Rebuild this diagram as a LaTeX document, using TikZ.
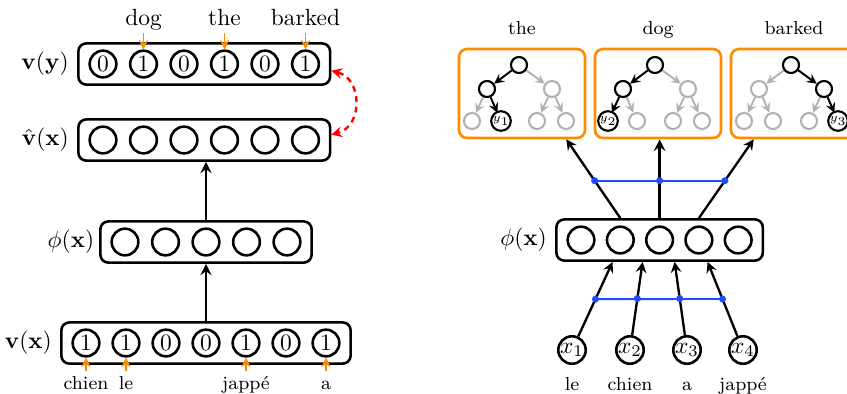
\documentclass[tikz,border=0pt]{standalone}
\usetikzlibrary{positioning,fit,calc}
\definecolor{hsorange}{RGB}{255,140,0}
\definecolor{hsblue}{RGB}{30,75,255}

\begin{document}
\begin{tikzpicture}[x=0.015cm, y=-0.015cm, >=stealth,
unit/.style={circle, draw, line width=1.1pt, minimum size=4mm, inner sep=0pt},
vecbox/.style={rectangle, rounded corners=1.2mm, draw, line width=1.1pt, inner xsep=1.5mm, inner ysep=0.9mm},
word/.style={inner sep=1pt, text height=1.6ex, text depth=0.4ex},
wordarrow/.style={->, draw=hsorange, line width=0.8pt},
treebox/.style={rectangle, rounded corners=1.2mm, draw=hsorange, line width=1.1pt, minimum width=1.89cm, minimum height=1.335cm},
treeoff/.style={circle, draw=black!30, line width=0.9pt, minimum size=2.4mm, inner sep=0pt},
treeon/.style={circle, draw=black, fill=white, line width=0.9pt, minimum size=2.4mm, inner sep=0pt, font=\tiny},
offedge/.style={->, draw=black!30, line width=0.8pt},
onedge/.style={->, draw=black, line width=0.8pt},
blueline/.style={draw=hsblue, line width=0.8pt},
]
\useasboundingbox (0,0) rectangle (847,393);

%Left: bag of words
\foreach \v [count=\i] in {0,1,0,1,0,1}
  \node[unit] (y\i) at (62.5+40.5*\i, 64) {\v};
\node[vecbox, fit=(y1)(y6)] (vybox) {};
\node[left=0pt of vybox] (vylab) {$\mathbf{v}(\mathbf{y})$};

\foreach \i in {1,...,6}
  \node[unit] (h\i) at (62.5+40.5*\i, 140) {};
\node[vecbox, fit=(h1)(h6)] (vhbox) {};
\node[left=0pt of vhbox] (vhlab) {$\hat{\mathbf{v}}(\mathbf{x})$};

\foreach \i in {1,...,5}
  \node[unit] (p\i) at (84.5+40.5*\i, 242) {};
\node[vecbox, fit=(p1)(p5)] (phbox) {};
\node[left=-0.5mm of phbox] (phlab) {$\phi(\mathbf{x})$};

\foreach \v [count=\i] in {1,1,0,0,1,0,1}
  \node[unit] (x\i) at (46+40*\i, 343) {\v};
\node[vecbox, fit=(x1)(x7)] (vxbox) {};
\node[left=0pt of vxbox] (vxlab) {$\mathbf{v}(\mathbf{x})$};

\node[word, above=2.5mm of y2] (wdog) {dog};
\node[word, above=2.5mm of y4] (wthe) {the};
\node[word, above=2.5mm of y6] (wbarked) {barked};
\node[word, font=\footnotesize, below=2mm of x1] (wchien) {chien};
\node[word, font=\footnotesize, below=2mm of x2] (wle) {le};
\node[word, font=\footnotesize, below=2mm of x5] (wjappe) {jappé};
\node[word, font=\footnotesize, below=2mm of x7] (wa) {a};

\draw[wordarrow] (wdog) -- (y2);
\draw[wordarrow] (wthe) -- (y4);
\draw[wordarrow] (wbarked) -- (y6);
\draw[wordarrow] (wchien) -- (x1);
\draw[wordarrow] (wle) -- (x2);
\draw[wordarrow] (wjappe) -- (x5);
\draw[wordarrow] (wa) -- (x7);

\draw[->, line width=1.1pt] (phbox.north |- vxbox.north) -- (phbox.south);
\draw[->, line width=1.1pt] (phbox.north) -- (phbox.north |- vhbox.south);
\draw[<->, red, line width=1pt, dash pattern=on 2.5pt off 2pt]
  ([yshift=-1mm]vybox.east) to[bend left=75, looseness=1.3] ([yshift=0.8mm]vhbox.east);

%Right: tree decoder
\foreach \i in {1,...,5}
  \node[unit] (q\i) at (541.7+39.3*\i, 240) {};
\node[vecbox, fit=(q1)(q5)] (qbox) {};
\node[left=0pt of qbox] (qlab) {$\phi(\mathbf{x})$};

\foreach \w/\bx in {the/459, dog/595, barked/731} {
  \node[treebox] (tb-\w) at (\bx+63, 93.5) {};
  \node[word, font=\footnotesize, above=1mm of tb-\w] (tw-\w) {\w};
  \node[treeoff] (r-\w) at (\bx+60, 65) {};
  \node[treeoff] (a-\w) at (\bx+28, 89) {};
  \node[treeoff] (b-\w) at (\bx+93, 89) {};
  \node[treeoff] (l1-\w) at (\bx+13, 121) {};
  \node[treeoff] (l2-\w) at (\bx+42, 121) {};
  \node[treeoff] (l3-\w) at (\bx+78, 121) {};
  \node[treeoff] (l4-\w) at (\bx+107, 121) {};
  \draw[offedge] (r-\w) -- (a-\w);
  \draw[offedge] (r-\w) -- (b-\w);
  \draw[offedge] (a-\w) -- (l1-\w);
  \draw[offedge] (a-\w) -- (l2-\w);
  \draw[offedge] (b-\w) -- (l3-\w);
  \draw[offedge] (b-\w) -- (l4-\w);
}

% paths to the leaves
\foreach \n in {r-the, a-the, r-dog, a-dog, r-barked, b-barked}
  \node[treeon] at (\n) {};
\node[treeon] at (l2-the) {$y_1$};
\node[treeon] at (l1-dog) {$y_2$};
\node[treeon] at (l4-barked) {$y_3$};
\draw[onedge] (r-the) -- (a-the);
\draw[onedge] (a-the) -- (l2-the);
\draw[onedge] (r-dog) -- (a-dog);
\draw[onedge] (a-dog) -- (l1-dog);
\draw[onedge] (r-barked) -- (b-barked);
\draw[onedge] (b-barked) -- (l4-barked);

\draw[->, line width=1pt] (q2 |- qbox.north) -- coordinate[pos=0.475] (u1) ($(tb-the.south east)+(-20,0)$);
\draw[->, line width=1.2pt] (q3 |- qbox.north) -- coordinate[pos=0.475] (u2) (q3 |- tb-dog.south);
\draw[->, line width=1pt] (q4 |- qbox.north) -- coordinate[pos=0.475] (u3) ($(tb-barked.south west)+(24,0)$);
\draw[blueline] (u1) -- (u3);
\foreach \u in {u1,u2,u3}
  \fill[hsblue] (\u) circle (1.5pt);

\foreach \t/\px [count=\i] in {le/572, chien/630, a/687, jappé/743} {
  \node[unit] (in\i) at (\px, 350) {$x_\i$};
  \node[word, font=\footnotesize, below=1mm of in\i] (iw\i) {\t};
}
\draw[->, line width=1pt] (in1) -- coordinate[pos=0.5] (d1) ($(qbox.south)+(-47,0)$);
\draw[->, line width=1pt] (in2) -- coordinate[pos=0.5] (d2) ($(qbox.south)+(-17,0)$);
\draw[->, line width=1pt] (in3) -- coordinate[pos=0.5] (d3) ($(qbox.south)+(15,0)$);
\draw[->, line width=1pt] (in4) -- coordinate[pos=0.5] (d4) ($(qbox.south)+(48,0)$);
\draw[blueline] (d1) -- (d4);
\foreach \d in {d1,d2,d3,d4}
  \fill[hsblue] (\d) circle (1.5pt);
\end{tikzpicture}
\end{document}
